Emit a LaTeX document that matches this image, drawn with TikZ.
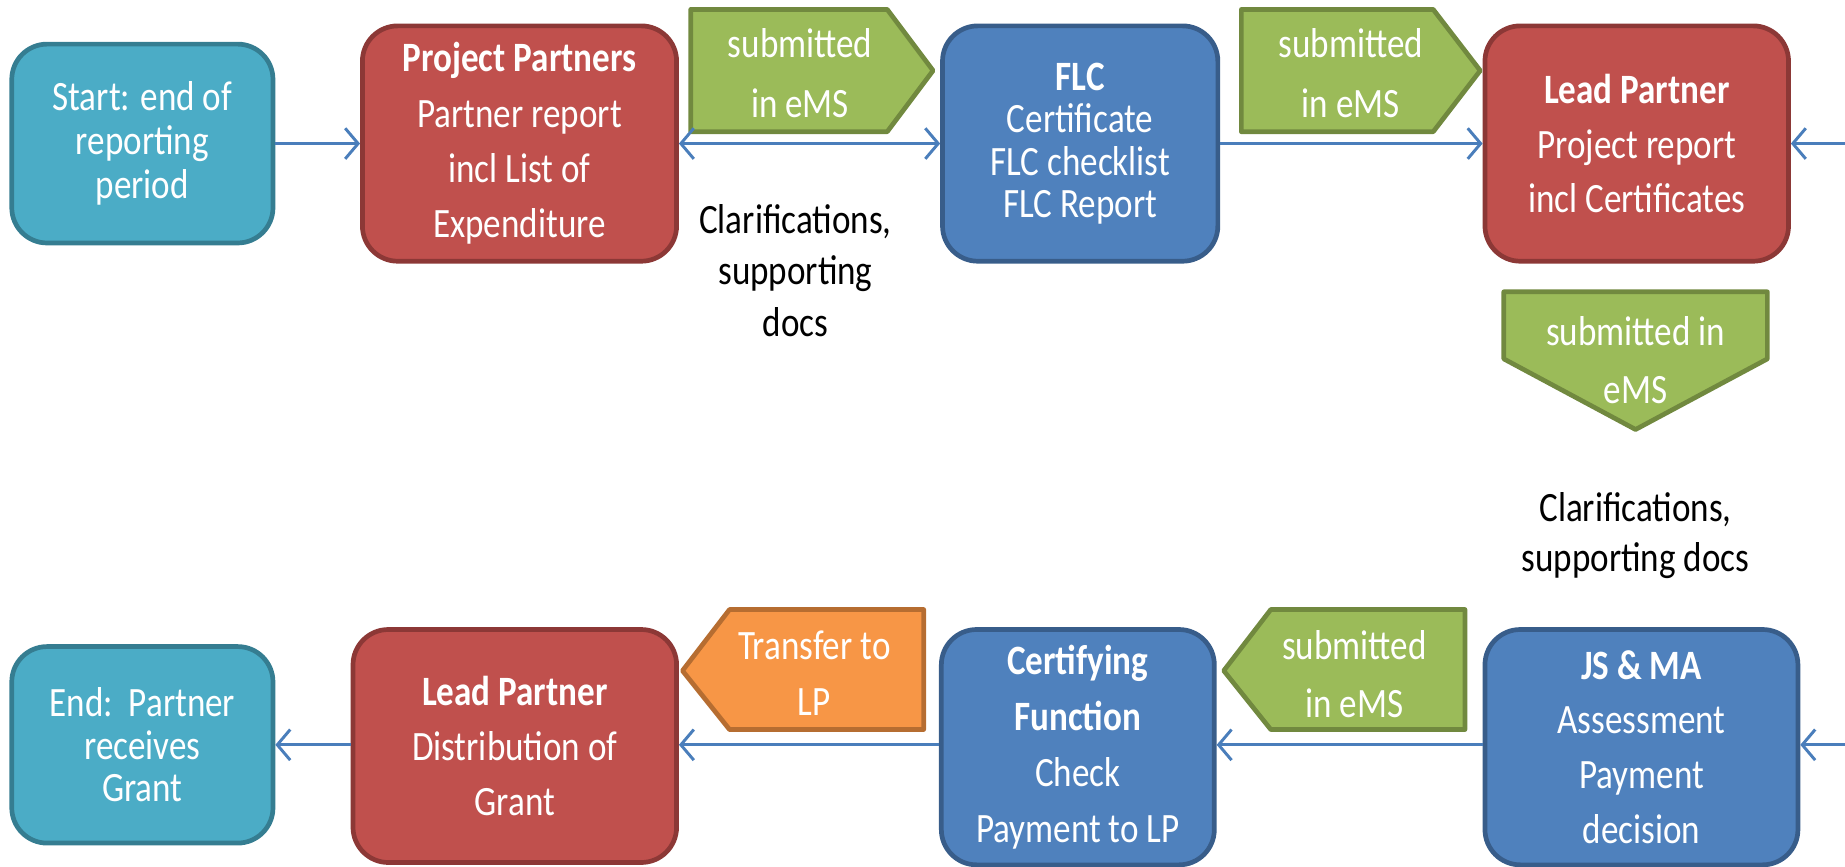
\documentclass[tikz,border=0pt]{standalone}
\usepackage{fontspec}
\setmainfont{Carlito}[FakeStretch=0.84]
\usetikzlibrary{arrows.meta}
\definecolor{tealF}{HTML}{4BACC6}\definecolor{tealD}{HTML}{357D91}
\definecolor{redF}{HTML}{C0504D}\definecolor{redD}{HTML}{8C3836}
\definecolor{blueF}{HTML}{4F81BD}\definecolor{blueD}{HTML}{385D8A}
\definecolor{greenF}{HTML}{9BBB59}\definecolor{greenD}{HTML}{71893F}
\definecolor{orangeF}{HTML}{F79646}\definecolor{orangeD}{HTML}{B66D31}
\definecolor{arrC}{HTML}{4A7EBB}
\newcommand\myfs[1]{\fontsize{35.5}{#1}\selectfont}
\begin{document}
\begin{tikzpicture}[x=1pt,y=-1pt,
  box/.style={rounded corners=30pt, line width=4pt, text=white, align=center, inner sep=0pt},
  tealbox/.style={box, fill=tealF, draw=tealD},
  redbox/.style={box, fill=redF, draw=redD},
  bluebox/.style={box, fill=blueF, draw=blueD},
  gshape/.style={fill=greenF, draw=greenD, line width=4pt, line join=round},
  oshape/.style={fill=orangeF, draw=orangeD, line width=4pt, line join=round},
  wtxt/.style={text=white, align=center, inner sep=0pt},
  btxt/.style={text=black, align=center, inner sep=0pt},
  barb/.tip={Straight Barb[length=11pt,width=26pt,line width=2.5pt]},
  arr/.style={draw=arrC, line width=2.5pt, -barb},
  darr/.style={draw=arrC, line width=2.5pt, barb-barb}
]
\useasboundingbox (0,0) rectangle (1568,736);
% top row
\node[tealbox, minimum width=222pt, minimum height=169pt, font=\myfs{37.5}] (start) at (121,122) {Start: end of\\reporting\\period};
\node[redbox, minimum width=267pt, minimum height=200pt, font=\myfs{47}] (pp) at (441.5,122) {\textbf{Project Partners}\\Partner report\\incl List of\\Expenditure};
\node[bluebox, minimum width=234pt, minimum height=200pt, font=\myfs{36}] (flc) at (918,122) {\textbf{FLC}\\Certificate\\FLC checklist\\FLC Report};
\node[redbox, minimum width=258pt, minimum height=200pt, font=\myfs{46.5}] (lp1) at (1391,122) {\textbf{Lead Partner}\\Project report\\incl Certificates};
% top pentagons
\draw[gshape] (587,8) -- (754,8) -- (793,60) -- (754,112) -- (587,112) -- cycle;
\node[wtxt, font=\myfs{51}] (g1) at (680,62) {submitted\\in eMS};
\draw[gshape] (1055,8) -- (1218,8) -- (1258,60) -- (1218,112) -- (1055,112) -- cycle;
\node[wtxt, font=\myfs{51}] (g2) at (1148,62) {submitted\\in eMS};
\draw[gshape] (1278,248) -- (1502,248) -- (1502,305) -- (1390,365) -- (1278,305) -- cycle;
\node[wtxt, font=\myfs{50}] (g3) at (1390,306) {submitted in\\eMS};
\node[btxt, font=\myfs{44}] (cl1) at (676,230) {Clarifications,\\supporting\\docs};
\node[btxt, font=\myfs{42}] (cl2) at (1390,455) {Clarifications,\\supporting docs};
% top arrows
\draw[arr] (start.east) -- (pp.west);
\draw[darr] (pp.east) -- (flc.west);
\draw[arr] (flc.east) -- (lp1.west);
\coordinate (rin1) at (1568,122);
\draw[arr] (rin1) -- (lp1.east);
% bottom row
\node[tealbox, minimum width=222pt, minimum height=167pt, font=\myfs{36}] (end) at (121,633) {End:\ \ Partner\\receives\\Grant};
\node[redbox, minimum width=275pt, minimum height=198pt, font=\myfs{46.5}] (lp2) at (437.5,634) {\textbf{Lead Partner}\\Distribution of\\Grant};
\node[bluebox, minimum width=232pt, minimum height=200pt, font=\myfs{47.5}] (cf) at (916,635) {\textbf{Certifying}\\\textbf{Function}\\Check\\Payment to LP};
\node[bluebox, minimum width=266pt, minimum height=200pt, font=\myfs{46.7}] (js) at (1395,635) {\textbf{JS \& MA}\\Assessment\\Payment\\decision};
\draw[oshape] (580,570) -- (620,518) -- (785,518) -- (785,620) -- (620,620) -- cycle;
\node[wtxt, font=\myfs{47}] (o1) at (692,572) {Transfer to\\LP};
\draw[gshape] (1040,570) -- (1080,518) -- (1245,518) -- (1245,620) -- (1080,620) -- cycle;
\node[wtxt, font=\myfs{49}] (g4) at (1151,573) {submitted\\in eMS};
\coordinate (rin2) at (1568,633);
\draw[arr] (rin2) -- (js.east |- rin2);
\draw[arr] (js.west |- rin2) -- (cf.east |- rin2);
\draw[arr] (cf.west |- rin2) -- (lp2.east |- rin2);
\draw[arr] (lp2.west |- rin2) -- (end.east |- rin2);
\end{tikzpicture}
\end{document}
